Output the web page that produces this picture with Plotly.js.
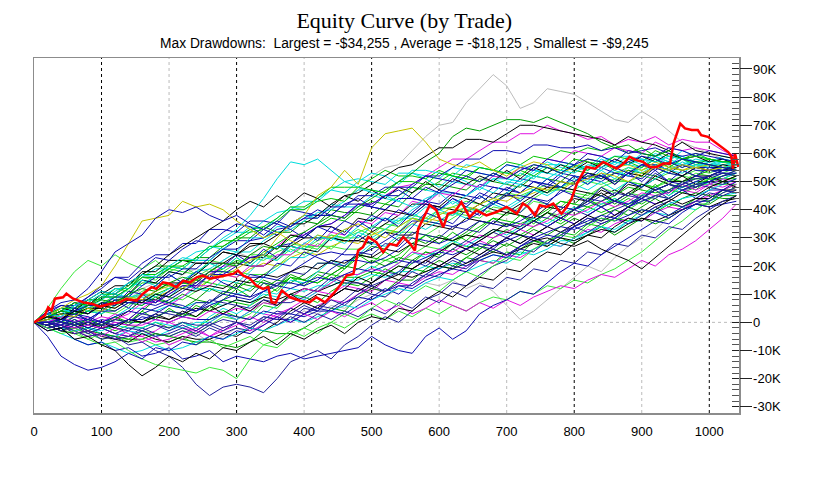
<!DOCTYPE html>
<html>
<head>
<meta charset="utf-8">
<script src="https://cdn.plot.ly/plotly-3.0.1.min.js"></script>
<style>
  html, body { margin: 0; padding: 0; background: #fff; }
  #chart { width: 815px; height: 479px; }
</style>
</head>
<body>
<div id="chart"></div>
<script>
// Monte Carlo equity curves. Equity in $K, one sample every 20 trades.
const trades = [0,20,40,60,80,100,120,140,160,180,200,220,240,260,280,300,320,340,360,380,400,420,440,460,480,500,520,540,560,580,600,620,640,660,680,700,720,740,760,780,800,820,840,860,880,900,920,940,960,980,1000,1020,1040];

const runGrayHigh = [0,2,1,4,6,5,9,8,12,14,13,17,19,18,22,25,23,28,31,33,36,35,40,44,47,52,55,56,61,66,70,71,78,83,88,84,76,78,83,82,81,78,75,72,71,75,72,68,64,62,60,58,56];
const runGrayLow = [0,-1,-3,-2,-5,-4,-7,-6,-3,-5,-8,-6,-4,-7,-5,-2,-4,0,2,1,4,3,6,5,8,10,9,12,11,14,13,15,12,14,11,6,1,4,8,12,16,20,18,23,27,30,33,37,40,44,47,50,52];
const runGreenHigh = [0,2,4,3,6,8,7,10,12,11,14,16,15,18,21,20,24,27,26,30,32,35,38,37,41,44,47,50,53,57,60,66,69,68,70,72,72,71,73,71,69,67,64,62,63,60,59,61,58,57,56,55,54];
const runOliveHigh = [0,1,3,2,5,4,7,9,8,11,13,12,15,17,16,19,22,24,30,35,38,45,48,54,49,62,67,68,69,64,58,56,55,57,54,52,55,57,56,53,55,58,57,55,56,54,57,55,54,55,56,55,56];
const runOliveEarly = [0,2,5,8,10,13,20,28,36,37,38,43,41,42,40,36,33,30,32,29,27,31,30,33,35,32,30,34,37,35,38,41,39,42,44,43,46,48,47,50,49,51,53,52,50,53,55,54,56,55,54,55,56];
const runCyanHigh = [0,3,2,6,8,11,10,14,17,16,20,23,22,26,30,33,38,44,51,57,56,58,54,50,48,46,45,43,41,44,46,42,45,48,46,50,49,52,51,54,53,56,55,57,56,58,57,59,58,57,56,55,56];
const runBlueEarly = [0,4,7,8,12,18,25,28,31,37,40,39,41,38,36,38,35,33,36,34,37,40,38,42,44,41,45,47,44,48,46,49,52,50,53,51,54,56,55,53,56,58,57,55,57,59,58,56,58,57,56,55,54];
const runBlueLowest = [0,-2,-1,-4,-3,-6,-5,-8,-7,-10,-12,-16,-22,-26,-23,-22,-23,-25,-20,-14,-12,-10,-13,-8,-5,-1,2,0,4,8,10,14,13,17,20,22,26,25,29,32,34,37,36,40,42,45,44,47,49,51,52,53,52];
const runBlueLong = [0,-3,-2,-6,-8,-7,-10,-9,-12,-11,-9,-13,-12,-10,-14,-12,-13,-14,-12,-11,-13,-12,-11,-10,-9,-5,-8,-10,-11,-5,-2,-6,-3,3,6,8,11,10,14,18,21,20,24,27,30,33,36,35,39,42,44,47,50];
const runGreenLow = [0,-2,-4,-3,-6,-8,-7,-10,-13,-15,-16,-17,-18,-16,-17,-20,-13,-8,-9,-5,-2,-4,0,3,1,5,8,6,10,13,11,15,18,16,20,23,22,26,29,31,30,34,37,36,40,43,45,44,47,49,51,52,53];
const runBlueDip = [0,-5,-12,-15,-17,-16,-14,-11,-13,-9,-10,-7,-8,-5,-6,-3,-4,-1,2,0,3,5,4,7,9,8,11,13,12,15,17,19,18,22,24,23,27,29,31,30,34,36,38,37,41,43,45,44,47,49,50,52,53];
const runBlackLow = [0,-3,-2,-6,-5,-8,-10,-15,-19,-16,-12,-14,-11,-13,-9,-10,-7,-5,-8,-4,-6,-3,-1,-4,0,2,1,5,4,8,11,9,13,16,15,19,18,22,25,24,28,31,30,34,37,36,40,43,46,45,48,50,52];
const runBlackLate = [0,2,1,4,3,6,5,8,7,10,9,12,11,13,12,15,14,17,16,18,20,19,22,21,24,23,26,25,28,27,30,29,31,30,33,32,31,29,30,28,27,29,26,24,22,19,23,27,31,35,39,42,45];
const run01 = [0,2,4,4,6,9,9,12,16,16,19,22,22,22,26,29,29,33,31,35,38,38,38,37,42,41,40,44,44,43,47,46,45,49,48,47,51,50,49,53,52,51,55,53,52,56,55,53,56,55,55,55,55];
const run02 = [0,0,-2,0,-3,-1,-3,-1,-2,0,-2,0,-2,1,4,2,1,6,5,10,9,7,11,14,13,16,19,17,21,25,24,28,27,26,30,33,31,34,37,35,38,41,39,41,44,42,45,47,46,48,50,52,54];
const run03 = [0,3,2,5,4,3,6,9,10,9,12,15,18,19,22,25,25,29,32,33,36,39,40,43,47,47,46,50,54,54,53,52,56,55,54,53,56,54,57,55,54,58,57,55,58,56,59,56,59,56,56,56,56];
const run04 = [0,-1,0,-2,-4,-2,-4,-5,-2,-4,-5,-3,-5,-2,-4,-2,-3,2,1,1,5,4,9,12,11,14,18,17,22,21,25,28,26,29,32,30,33,36,34,37,40,38,41,43,41,44,47,44,47,48,50,52,54];
const run05 = [0,2,4,7,6,10,13,13,18,18,22,22,21,21,25,24,23,23,27,27,26,25,30,29,29,28,32,31,31,35,34,33,37,36,35,39,38,37,41,40,44,43,47,45,49,48,52,50,50,52,52,54,55];
const run06 = [0,0,2,2,4,4,3,6,10,10,9,8,11,15,18,18,17,17,20,24,27,27,27,26,26,29,32,32,32,31,34,37,40,40,39,38,41,44,47,47,46,45,48,50,50,49,48,50,52,51,51,53,55];
const run07 = [0,-1,-3,-1,-4,-2,-4,-5,-5,-3,0,-2,-3,0,3,1,4,3,2,5,8,11,10,13,12,11,15,14,19,22,20,23,26,29,27,30,33,31,34,37,35,38,41,38,41,44,42,44,47,46,49,48,50];
const run08 = [0,-2,-1,-4,-3,-5,-2,-4,-7,-5,-8,-6,-3,-5,-2,0,-3,-1,2,0,3,1,4,2,5,7,4,6,3,5,8,6,4,7,5,8,6,9,11,13,12,15,17,16,19,22,20,24,26,29,33,37,42];
const run09 = [0,4,6,6,9,12,16,16,21,24,24,28,28,33,33,32,36,36,35,40,39,38,38,42,42,41,40,44,44,43,42,46,45,44,48,47,46,50,49,48,52,51,50,53,52,51,55,53,52,55,54,53,52];
const run10 = [0,0,-2,-3,-2,-4,-5,-3,-4,-5,-3,0,-2,2,5,3,6,11,10,15,14,18,22,20,24,28,27,31,35,33,36,39,37,40,43,41,44,47,45,48,51,49,52,54,52,55,58,55,58,55,57,58,57];
const run11 = [0,3,5,5,7,10,10,13,17,17,20,20,23,27,27,30,33,34,37,41,41,44,48,48,48,51,54,52,52,51,54,52,51,50,53,51,54,52,55,53,56,54,57,54,57,55,58,55,58,56,58,57,57];
const run12 = [0,0,-1,1,-1,1,0,-1,2,1,0,2,1,1,3,2,1,4,3,3,2,4,4,3,6,9,12,10,14,17,20,23,21,24,27,30,28,31,34,37,35,38,41,38,41,44,42,44,47,44,47,47,46];
const run13 = [0,2,0,-1,0,-1,1,4,8,8,11,14,14,18,21,21,20,20,23,27,30,30,30,29,29,32,35,38,42,42,41,40,39,42,40,39,42,45,48,48,47,46,45,47,45,48,51,49,48,50,50,50,50];
const run14 = [0,2,3,2,4,7,7,10,14,14,13,12,15,14,13,12,15,14,13,16,15,14,17,16,16,18,17,20,19,18,20,19,23,22,21,25,24,29,28,32,31,35,34,37,36,40,39,42,41,44,43,47,49];
const run15 = [0,-1,-3,-2,-4,-6,-5,-7,-6,-8,-7,-5,-8,-6,-9,-7,-5,-8,-6,-3,-5,-2,0,-2,1,3,1,4,2,5,3,6,4,7,9,8,11,10,13,12,15,14,17,19,22,25,29,33,36,40,43,46,48];
const run16 = [0,0,1,4,3,6,9,9,9,8,7,9,12,12,11,10,12,16,19,23,23,26,30,30,34,37,37,36,40,43,46,46,45,48,51,51,50,53,56,56,55,54,57,59,59,58,57,59,59,57,57,57,57];
const run17 = [0,-1,0,-1,-3,-1,-2,-3,0,-1,-2,0,-1,-1,1,0,-1,2,1,5,3,6,5,8,12,10,9,13,13,17,16,20,19,23,26,24,27,30,28,31,34,37,35,37,40,38,41,43,41,43,46,45,47];
const run18 = [0,1,3,3,5,5,8,8,8,11,14,14,17,21,21,24,27,28,31,35,35,38,42,45,46,49,52,55,56,59,62,62,65,65,64,67,70,70,69,68,67,66,65,63,66,64,63,61,64,61,60,59,58];
const run19 = [0,0,2,2,0,2,1,3,7,7,10,13,13,17,20,20,23,24,27,31,31,34,35,38,42,42,45,48,49,52,55,58,58,61,64,64,67,67,70,68,67,65,66,63,65,64,66,63,65,64,64,61,59];
const run20 = [0,3,2,6,8,8,12,12,17,20,20,19,23,23,27,30,30,34,32,32,36,35,40,39,39,38,42,41,46,49,49,48,47,51,50,49,48,52,51,50,54,53,52,50,54,53,52,55,54,52,54,54,54];
const run21 = [0,0,-2,0,1,0,-1,1,5,4,3,2,4,8,7,6,5,8,7,7,9,12,16,14,14,13,15,18,22,20,23,26,29,27,26,30,33,36,34,37,40,43,41,43,46,44,47,49,47,49,48,47,46];
const run22 = [0,-1,-3,-4,-3,-5,-6,-7,-4,-6,-7,-5,-6,-6,-4,-5,-2,-3,0,4,7,5,9,12,16,14,17,20,19,22,25,28,26,29,32,35,33,36,39,37,40,43,46,43,46,49,47,49,52,49,52,50,48];
const run23 = [0,2,1,0,1,0,2,5,5,4,6,5,7,7,6,8,7,10,9,12,11,13,13,15,15,17,16,18,18,20,19,21,20,22,24,23,25,24,26,29,29,32,34,32,36,36,39,38,41,40,43,45,46];
const run24 = [0,0,-1,2,1,4,4,7,8,7,10,13,13,17,17,20,23,24,27,28,31,34,35,38,42,42,45,45,49,52,52,55,58,58,61,61,60,63,63,62,62,63,61,62,60,61,62,60,59,60,59,58,57];
const run25 = [0,0,-1,1,-1,-1,1,0,0,2,4,3,2,5,8,7,6,9,12,16,15,14,17,20,24,23,22,24,28,31,30,29,31,34,37,36,35,37,40,43,42,41,43,45,48,47,46,47,50,51,51,51,51];
const run26 = [0,2,3,3,1,4,7,7,7,6,8,11,14,18,18,17,16,16,15,18,21,24,25,24,24,26,29,32,36,36,35,34,36,39,42,45,45,44,43,46,49,52,52,50,53,56,56,54,56,54,54,54,54];
const run27 = [0,-1,-3,-1,-3,-4,-5,-6,-6,-4,-5,-6,-7,-7,-8,-9,-7,-3,-4,-4,-2,1,5,4,9,12,11,15,15,19,22,20,23,26,29,27,30,33,31,34,37,35,38,40,38,41,44,41,44,46,45,44,44];
const run28 = [0,2,4,7,6,9,12,12,16,19,19,22,25,26,29,32,32,36,39,40,43,43,47,50,51,50,49,53,53,52,51,55,54,53,52,56,55,54,53,57,56,55,59,57,56,60,59,57,61,59,58,57,56];
const run29 = [0,0,1,0,-2,0,-1,1,1,3,6,5,4,7,10,9,8,11,14,14,13,15,19,22,22,21,23,26,30,29,28,30,33,36,35,34,36,39,42,41,40,42,45,43,42,44,47,49,48,50,52,54,56];
const run30 = [0,-2,-1,-3,-5,-4,-6,-3,-5,-7,-6,-4,-2,-5,-3,-1,2,0,3,5,3,6,8,7,10,12,11,14,13,16,18,17,20,22,21,24,23,26,28,27,30,33,32,35,37,36,39,41,40,43,45,47,49];
const run31 = [0,1,3,2,4,6,5,8,10,9,11,13,12,15,17,16,19,21,20,23,25,24,27,29,28,31,33,32,35,37,36,39,41,40,43,45,44,46,48,47,50,52,51,53,54,52,55,56,54,56,55,56,57];
const run32 = [0,-1,1,3,2,0,2,4,3,5,7,6,4,6,8,10,9,11,13,12,14,16,15,17,19,18,20,22,21,23,25,24,26,28,27,29,31,30,32,34,33,35,37,36,38,40,39,37,40,42,41,42,43];
const run33 = [0,2,4,6,5,7,9,8,11,13,12,14,16,19,18,21,23,22,25,27,26,29,31,30,32,34,33,36,38,37,40,41,43,42,44,46,45,47,49,48,50,52,51,53,55,54,56,57,55,57,58,57,56];
const run34 = [0,-1,-3,-2,0,-2,-1,1,0,2,1,3,5,4,6,8,7,9,8,10,12,11,13,15,14,12,15,17,16,18,20,19,21,23,25,24,26,28,27,30,29,31,33,32,35,37,36,38,40,42,41,43,44];
const run35 = [0,-2,-4,-6,-8,-7,-9,-11,-10,-8,-10,-9,-7,-5,-6,-4,-2,-3,-1,1,0,2,4,6,5,8,10,12,11,14,16,15,18,20,22,21,24,26,28,27,30,32,34,33,36,38,40,42,44,45,47,49,51];
const run36 = [0,5,12,18,22,20,24,21,19,22,18,20,17,21,19,23,20,24,22,26,24,28,26,30,33,31,35,34,37,36,39,38,41,40,43,45,44,47,46,48,47,50,49,51,50,52,51,53,52,54,53,55,56];
const run37 = [0,3,0,5,3,7,6,11,10,13,17,14,18,16,20,24,21,26,23,28,32,29,34,31,36,33,37,34,39,43,40,44,41,45,42,46,43,47,51,48,52,49,53,49,53,50,54,50,54,52,55,54,54];
const run38 = [0,-1,2,-1,1,-1,2,-1,4,1,5,2,6,4,8,12,9,14,11,16,13,17,15,19,24,21,25,22,27,31,28,32,29,33,37,34,38,35,39,36,40,44,41,44,41,45,49,45,49,47,51,50,52];
const run39 = [0,2,4,4,7,6,10,9,15,14,18,17,22,22,26,25,30,30,34,34,38,37,42,41,41,45,44,43,48,47,46,50,49,48,52,51,50,54,53,52,56,55,54,57,56,55,59,57,56,57,56,58,57];
const run40 = [0,0,-2,0,-2,0,-2,1,0,3,1,4,2,6,3,6,4,8,6,10,7,10,9,12,11,14,17,15,19,22,20,23,26,24,27,30,28,31,34,32,35,38,36,38,41,39,42,44,42,44,44,47,47];
const run41 = [0,3,5,5,8,8,12,11,16,15,19,18,17,22,21,20,24,24,23,28,27,26,31,30,30,34,33,32,37,36,35,39,38,37,41,40,39,43,42,41,45,44,48,46,50,49,48,51,50,53,52,54,56];
const run42 = [0,-1,-3,-1,-4,-2,-4,-2,-3,-1,-3,-1,-3,0,-2,0,-2,1,4,3,6,4,8,6,10,13,11,14,18,16,19,22,20,23,26,24,27,30,28,31,34,32,35,37,35,38,41,38,41,43,43,46,48];
const run43 = [0,0,3,2,5,4,8,7,6,10,9,13,12,11,15,14,18,23,22,27,26,30,30,28,32,30,33,37,37,41,40,38,41,39,42,40,43,47,46,50,49,47,50,47,50,48,51,54,53,56,55,57,56];
const run44 = [0,2,0,-1,1,-1,2,0,4,8,7,5,8,7,10,14,13,12,15,14,17,21,21,19,23,27,26,30,30,28,31,29,32,36,35,39,38,36,39,43,42,46,45,42,45,49,48,51,50,48,51,51,53];
const run45 = [0,0,-1,-2,-1,-2,0,-1,-1,1,0,2,1,4,3,5,4,7,6,9,12,11,14,17,17,19,18,21,25,24,26,25,28,31,30,32,35,34,36,39,38,40,43,41,43,46,45,46,49,47,49,51,50];
const run46 = [0,2,1,4,6,6,9,9,13,16,16,19,19,23,26,26,29,30,33,34,37,37,41,41,45,45,48,48,48,52,51,50,54,53,52,56,55,54,58,57,56,60,59,57,61,60,59,62,61,59,61,60,59];
const run47 = [0,-1,-3,-4,-6,-4,-5,-6,-3,-4,-5,-3,-4,-1,2,1,3,7,6,9,12,11,14,17,17,19,22,21,24,27,26,28,31,30,32,35,34,36,39,38,40,43,42,43,46,45,47,49,48,49,49,49,49];
const run48 = [0,3,1,5,3,7,6,10,15,14,18,17,21,21,25,24,28,28,26,31,30,34,34,32,37,36,40,39,38,42,41,45,44,42,46,45,49,48,46,50,49,53,52,49,53,52,56,54,52,55,54,56,55];
const run49 = [0,0,-2,0,-2,-3,-1,-2,-2,0,-1,-2,0,0,3,1,4,3,6,10,8,11,15,13,17,20,18,21,25,23,26,29,27,30,33,31,34,37,35,38,41,39,42,44,42,45,48,45,48,50,49,51,53];
const run50 = [0,4,0,4,0,4,8,5,10,7,11,15,12,17,14,12,17,16,21,20,25,23,21,25,31,28,32,29,34,39,37,35,40,38,43,41,39,44,42,47,45,43,48,45,50,48,53,50,49,52,51,53,53];
const run51 = [0,2,4,7,6,9,9,12,16,16,19,22,22,26,29,29,32,33,36,40,40,43,44,43,48,47,46,50,50,49,53,52,51,55,54,53,52,56,55,54,58,57,56,59,58,57,61,59,58,59,58,57,57];
const run52 = [0,-1,0,-1,0,-1,1,0,3,2,4,3,7,7,11,10,9,14,13,18,17,21,21,20,25,24,28,27,32,31,30,34,33,32,36,35,34,38,37,41,40,44,43,46,45,44,48,46,50,48,50,49,51];
const run53 = [0,0,2,0,2,0,3,1,5,8,6,9,13,13,17,16,20,20,24,24,28,27,32,31,36,35,39,38,43,42,46,45,49,48,52,51,55,54,58,57,61,60,59,62,61,60,64,62,61,62,61,60,59];
const run54 = [0,2,3,3,5,5,4,7,6,9,7,10,8,12,10,13,11,15,13,17,15,18,17,20,19,22,20,23,22,25,23,26,24,27,25,28,26,29,27,30,28,31,34,31,34,37,35,37,40,42,42,45,45];
const run55 = [0,2,5,4,8,11,10,14,17,20,24,27,30,33,36,40,43,41,45,42,46,44,41,45,43,47,44,48,46,50,47,51,49,52,50,54,51,55,53,56,54,57,55,58,56,59,57,60,58,59,57,58,56];
const run56 = [0,1,3,6,5,8,11,14,13,17,20,19,23,27,26,30,34,33,37,41,40,44,47,46,50,53,52,49,53,51,48,52,50,47,51,49,53,51,55,53,56,54,58,56,59,57,60,58,56,58,57,59,58];
const run57 = [0,3,6,5,9,13,16,15,19,23,22,26,29,28,32,35,34,31,35,33,30,34,32,36,34,38,36,40,38,42,40,44,42,46,44,48,46,50,48,52,50,53,51,55,53,56,54,57,55,57,56,55,54];
const run58 = [0,1,0,2,4,3,6,8,7,10,12,14,13,17,19,22,21,25,28,31,30,34,37,36,40,43,42,45,48,47,50,53,52,55,54,57,56,59,58,61,60,62,61,63,60,62,59,61,58,60,58,57,58];
const run59 = [0,-2,-1,-3,-5,-4,-6,-5,-3,-5,-4,-2,-4,-1,-3,0,-2,1,-1,2,0,3,1,4,2,5,3,7,5,9,7,11,9,13,12,16,15,19,18,22,21,25,24,28,27,31,30,34,33,37,40,43,45];
const run60 = [0,2,5,3,7,10,8,12,15,13,17,14,18,21,19,23,20,24,27,25,28,31,29,33,30,34,37,35,39,36,40,43,41,45,42,46,49,47,51,48,52,50,54,51,55,53,56,54,57,55,56,57,56];

// the highlighted run (red), read at its own turning points
const redTrades = [0,16,21,26,31,43,48,58,73,87,97,112,127,137,152,161,174,181,191,201,211,221,231,241,250,260,270,285,295,302,310,320,329,339,347,352,358,367,379,394,408,418,431,443,453,463,473,480,487,495,507,517,527,537,547,557,564,569,576,586,596,606,613,623,633,645,655,670,685,700,715,724,732,742,749,759,769,781,789,796,804,811,818,831,843,853,863,873,882,892,902,912,922,932,942,947,957,964,974,983,988,998,1008,1018,1028,1033,1035,1038,1043];
const redEquity = [0,2.4,5.3,4.2,8.4,8.9,10.2,8.4,7.1,6.5,5.6,6.5,7.1,8.3,7.7,10.1,12.5,11.9,14.2,13.7,12.5,14.8,14.2,16.0,16.6,15.5,16.0,16.6,17.2,18.4,16.6,15.5,13.1,11.9,12.5,7.1,7.0,11.3,8.9,7.7,7.1,8.9,7.1,10.1,13.1,16.6,17.2,25.5,26.7,30.3,28.5,24.9,27.9,27.3,30.3,27.9,25.5,33.3,36.8,41.6,39.8,33.8,38.6,39.2,42.7,37.4,39.8,38.0,39.2,41.0,38.6,42.2,41.0,38.0,41.6,41.0,42.2,38.6,41.0,43.9,49.3,52.2,55.2,54.6,57.0,55.8,54.6,56.4,58.8,57.6,57.0,55.2,55.2,56.4,56.4,63.5,70.6,68.9,68.3,68.3,66.5,65.9,64.1,62.3,60.5,58.8,54.6,60.0,55.2];

const xTicks = [0,100,200,300,400,500,600,700,800,900,1000];
const darkGrid = [100,300,500,800,1000];
const lightGrid = [200,400,600,700,900];
const yTicks = [-30,-20,-10,0,10,20,30,40,50,60,70,80,90];
const yLabels = ["-30K","-20K","-10K","0","10K","20K","30K","40K","50K","60K","70K","80K","90K"];

const COLORS = {
  blue: "#0c0cb0", navy: "#20209a", green: "#00c400", lime: "#3ae83a", dkgreen: "#009a00",
  cyan: "#00dcdc", black: "#000000", magenta: "#e010e0", olive: "#c4c400", gray: "#bcbcbc",
};

const runs = [
  [runGrayHigh, "gray"], [runGrayLow, "gray"], [run36, "lime"], [run31, "olive"],
  [run02, "green"], [run16, "cyan"], [run01, "blue"], [run06, "lime"], [run13, "black"],
  [run39, "cyan"], [run44, "dkgreen"], [run41, "lime"], [run47, "lime"], [run58, "green"],
  [run25, "green"], [run23, "cyan"], [run07, "magenta"], [run20, "dkgreen"], [run04, "navy"],
  [run33, "lime"], [run28, "cyan"], [run05, "black"], [run14, "green"], [run09, "blue"],
  [run43, "cyan"], [run38, "green"], [run54, "dkgreen"], [run49, "cyan"], [run56, "cyan"],
  [run30, "magenta"], [run10, "cyan"], [run27, "dkgreen"], [run12, "blue"], [run34, "black"],
  [run15, "lime"], [run19, "magenta"], [run11, "green"], [run17, "navy"], [run03, "cyan"],
  [run45, "magenta"], [run53, "magenta"], [run40, "black"], [run48, "black"], [run55, "black"],
  [run22, "black"], [run35, "cyan"], [run26, "blue"], [run08, "magenta"], [run29, "blue"],
  [run21, "navy"], [run18, "black"], [run24, "blue"], [run32, "blue"], [run60, "cyan"],
  [run37, "blue"], [run42, "navy"], [run46, "blue"], [run50, "blue"], [run51, "green"], [run52, "navy"],
  [run57, "blue"], [run59, "navy"],
  [runOliveHigh, "olive"], [runOliveEarly, "olive"], [runCyanHigh, "cyan"], [runGreenHigh, "dkgreen"],
  [runBlueEarly, "blue"], [runBlueLowest, "navy"], [runBlueLong, "blue"], [runGreenLow, "lime"],
  [runBlueDip, "blue"], [runBlackLow, "black"], [runBlackLate, "black"],
];

const traces = runs.map(([ys, c]) => ({
  x: trades, y: ys, type: "scatter", mode: "lines",
  line: { color: COLORS[c], width: 1 }, hoverinfo: "skip",
}));
traces.push({
  x: redTrades, y: redEquity, type: "scatter", mode: "lines",
  line: { color: "#ff0000", width: 2.5 }, hoverinfo: "skip",
});
// empty trace so the outside tick marks on yaxis2 get drawn
traces.push({ x: [0], y: [0], yaxis: "y2", type: "scatter", mode: "lines", hoverinfo: "skip" });

const shapes = [];
for (const v of darkGrid) shapes.push({ type: "line", layer: "below", xref: "x", yref: "paper", x0: v, x1: v, y0: 0, y1: 1, line: { color: "#000", width: 1, dash: "dot" } });
for (const v of lightGrid) shapes.push({ type: "line", layer: "below", xref: "x", yref: "paper", x0: v, x1: v, y0: 0, y1: 1, line: { color: "#bbb", width: 1, dash: "dot" } });
shapes.push({ type: "line", layer: "below", xref: "paper", yref: "y", x0: 0, x1: 1, y0: 0, y1: 0, line: { color: "#bbb", width: 1, dash: "dot" } });

const sans = "Liberation Sans, Arial, sans-serif";
const yRange = [-32.2, 93.9];

const layout = {
  width: 815, height: 479,
  margin: { l: 34, r: 76, t: 58, b: 66 },
  paper_bgcolor: "white", plot_bgcolor: "white",
  showlegend: false,
  title: {
    text: "Equity Curve (by Trade)", x: 0.496, xref: "container", xanchor: "center",
    y: 0.958, yref: "container", yanchor: "middle",
    font: { family: "Liberation Serif, Times New Roman, serif", size: 22, color: "#000" },
  },
  xaxis: {
    range: [0, 1044], tickmode: "array", tickvals: xTicks, ticks: "", showgrid: false, zeroline: false,
    showline: true, mirror: true, linecolor: "#8c8c8c", linewidth: 1.5,
    tickfont: { family: sans, size: 13, color: "#000" }, ticklabelstandoff: 6,
  },
  yaxis: {
    range: yRange, side: "right", tickmode: "array", tickvals: yTicks, ticktext: yLabels,
    ticks: "inside", ticklen: 7, tickcolor: "#222", tickwidth: 1,
    minor: { tickmode: "linear", tick0: 0, dtick: 2, ticks: "inside", ticklen: 7, tickcolor: "#555", showgrid: false },
    showgrid: false, zeroline: false, showline: true, mirror: true, linecolor: "#8c8c8c", linewidth: 1.5,
    tickfont: { family: sans, size: 13, color: "#000" }, ticklabelstandoff: 10,
  },
  yaxis2: {
    range: yRange, overlaying: "y", side: "right", tickmode: "array", tickvals: yTicks,
    ticks: "outside", ticklen: 12, tickcolor: "#222", showticklabels: false,
    showgrid: false, zeroline: false, showline: false,
  },
  shapes,
  annotations: [{
    text: "Max Drawdowns:\u00a0 Largest = -$34,255 , Average = -$18,125 , Smallest = -$9,245",
    xref: "paper", yref: "paper", x: 0.525, y: 1.042, xanchor: "center", yanchor: "middle",
    showarrow: false, font: { family: sans, size: 13.8, color: "#000" },
  }],
};

Plotly.newPlot("chart", traces, layout, { staticPlot: true, displayModeBar: false });
</script>
</body>
</html>
